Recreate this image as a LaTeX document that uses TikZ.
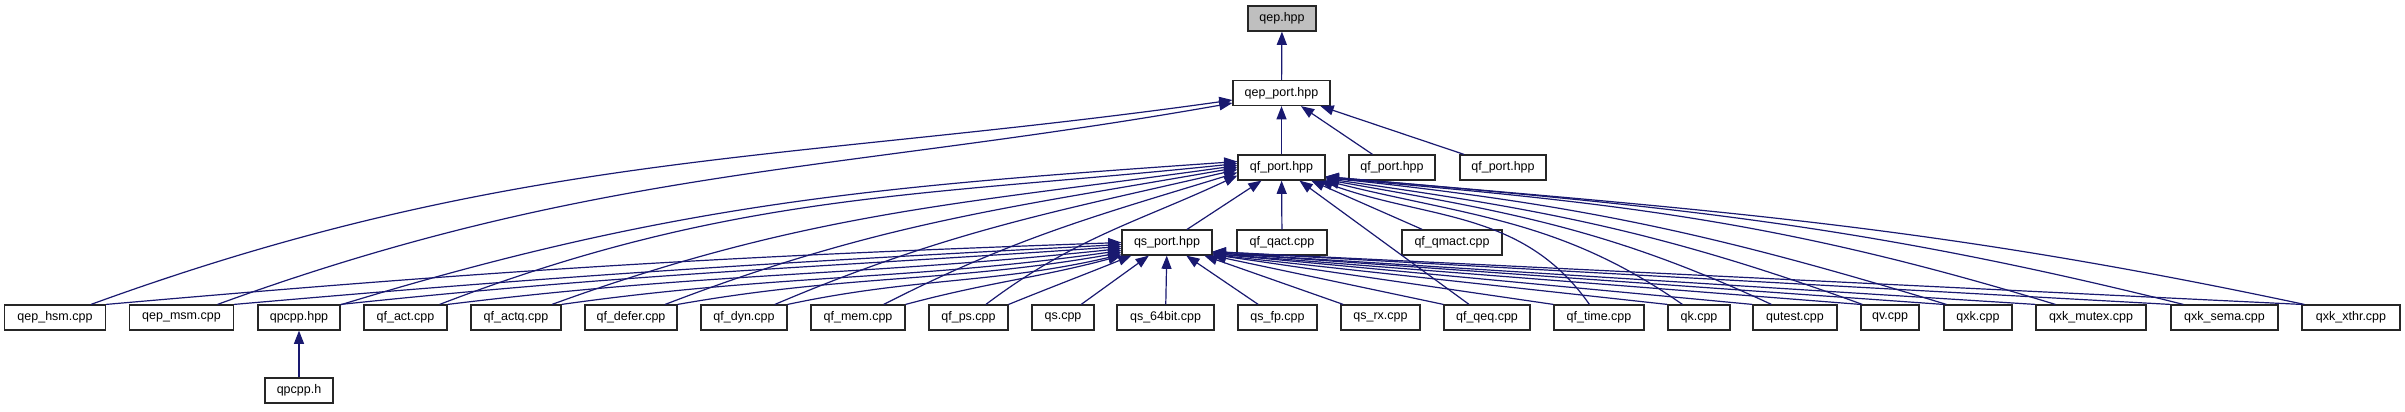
\documentclass[tikz,border=0pt]{standalone}
\usepackage{fontspec}
\setmainfont{Liberation Sans}
\usetikzlibrary{arrows.meta}
\definecolor{edgeblue}{HTML}{191970}
\definecolor{filegray}{HTML}{BFBFBF}
\begin{document}
\begin{tikzpicture}[x=0.25pt,y=-0.25pt,line width=0.3pt,
  file/.style={draw=black!85,fill=white,minimum height=6.25pt,inner sep=0pt,
    font=\fontsize{3.125}{3.5}\selectfont},
  dep/.style={draw=edgeblue,-{Triangle[length=3.3pt,width=2.5pt]}}]
 \useasboundingbox (0,0) rectangle (2405,411);
 \node[file,fill=filegray,minimum width=17pt] (qephpp) at (1282,18.5) {qep.hpp};
 \node[file,minimum width=24.25pt] (qepport) at (1281.5,93) {qep\_port.hpp};
 \node[file,minimum width=21.75pt] (qfport) at (1281.5,167.5) {qf\_port.hpp};
 \node[file,minimum width=21.5pt] (qfportb) at (1392,167.5) {qf\_port.hpp};
 \node[file,minimum width=21.5pt] (qfportc) at (1503,167.5) {qf\_port.hpp};
 \node[file,minimum width=22.5pt] (qsport) at (1167,242.5) {qs\_port.hpp};
 \node[file,minimum width=22.5pt] (qfqact) at (1282,242.5) {qf\_qact.cpp};
 \node[file,minimum width=25pt] (qfqmact) at (1452,242.5) {qf\_qmact.cpp};
 \foreach \n/\x/\w/\t in {qephsm/55/25.25/qep\_hsm.cpp, qepmsm/181.5/26/qep\_msm.cpp,
     qpcpphpp/299/20.5/qpcpp.hpp, qfact/405.5/20.75/qf\_act.cpp, qfactq/516/22.5/qf\_actq.cpp,
     qfdefer/631/23/qf\_defer.cpp, qfdyn/744/21.5/qf\_dyn.cpp, qfmem/858/23.5/qf\_mem.cpp,
     qfps/968.5/19.75/qf\_ps.cpp, qs/1063/15.5/qs.cpp, qsbit/1165.5/24.25/qs\_64bit.cpp,
     qsfp/1277.5/19.75/qs\_fp.cpp, qsrx/1380.5/19.75/qs\_rx.cpp, qfqeq/1487/21.5/qf\_qeq.cpp,
     qftime/1599/22.5/qf\_time.cpp, qk/1699/15.5/qk.cpp, qutest/1795/21/qutest.cpp,
     qv/1890/14.5/qv.cpp, qxk/1978/17/qxk.cpp, qxkmutex/2091/27.5/qxk\_mutex.cpp,
     qxksema/2224.5/26.75/qxk\_sema.cpp, qxkxthr/2351/24.5/qxk\_xthr.cpp}
   \node[file,minimum width=\w pt] (\n) at (\x,317.5) {\t};
 \node[file,minimum width=17pt] (qpcpph) at (299,390.5) {qpcpp.h};

 \draw[dep] (qepport) -- (qephpp);
 \draw[dep] (qpcpph) -- (qpcpphpp);
 \foreach \s in {qfport,qfportb,qfportc} \draw[dep] (\s) -- (qepport);
 \foreach \s/\o/\i/\d in {qephsm/20/188/-1.75, qepmsm/20/190/-2.5}
   \draw[dep] (\s) to[out=\o,in=\i] ([yshift=\d pt]qepport.west);

 \foreach \s in {qsport,qfqact,qfqmact,qfqeq} \draw[dep] (\s) -- (qfport);
 \foreach \s/\o/\i/\d in {qpcpphpp/17/184/1.5, qfact/21/186/1, qfactq/20/188/0.5, qfdefer/21/190/0,
     qfdyn/23/193/-0.5, qfmem/27/197/-1.25, qfps/37/205/-2}
   \draw[dep] (\s) to[out=\o,in=\i] ([yshift=\d pt]qfport.west);
 \draw[dep] ([xshift=9pt]qftime.north west) to[out=125,in=-20] ([xshift=-1.5pt]qfport.south east);
 \foreach \s/\x/\o/\i/\d in {qk/3.75/145/-14/0, qutest/4.75/155/-10/0.25, qv/0.5/160/-8/0.5,
     qxk/0.75/163/-6/0.75, qxkmutex/5/163/-5/0.75, qxksema/3.25/166/-5/1, qxkxthr/0.75/168/-5/1}
   \draw[dep] ([xshift=\x pt]\s.north west) to[out=\o,in=\i] ([yshift=\d pt]qfport.south east);

 \foreach \s in {qs,qsbit,qsfp,qsrx} \draw[dep] (\s) -- (qsport);
 \foreach \s/\o/\i/\d in {qephsm/5/182/0, qepmsm/5/183/-0.5, qpcpphpp/6/184/-1, qfact/7/186/-1.5,
     qfactq/8/188/-2, qfdefer/10/190/-2.5, qfdyn/12/193/-3}
   \draw[dep] (\s.north east) to[out=\o,in=\i] ([yshift=\d pt]qsport.west);
 \draw[dep] (qfmem.north east) to[out=15,in=195] (qsport.south west);
 \draw[dep] (qfps.north east) to[out=22,in=202] ([xshift=2.5pt]qsport.south west);
 \foreach \s/\d in {qfqeq/0, qftime/0.25, qk/0.25, qutest/0.5, qv/0.5, qxk/0.75, qxkmutex/0.75,
     qxksema/1, qxkxthr/1}
   \draw[dep] (\s.north west) -- ([yshift=\d pt]qsport.south east);
\end{tikzpicture}
\end{document}
